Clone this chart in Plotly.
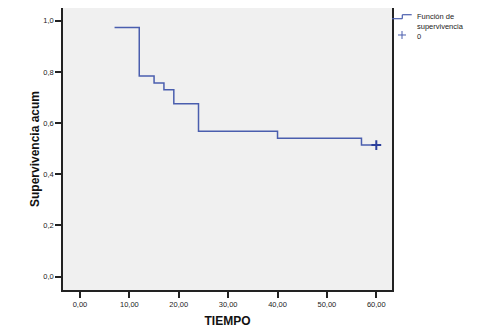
import plotly.graph_objects as go

# Kaplan-Meier step data
tiempo = [7, 12, 15, 17, 19, 24, 40, 57, 60]
supervivencia = [0.973, 0.784, 0.757, 0.730, 0.676, 0.568, 0.541, 0.514, 0.514]

# censored observations
tiempo_censurado = [60]
supervivencia_censurada = [0.514]

x_ticks = [0, 10, 20, 30, 40, 50, 60]
y_ticks = [0.0, 0.2, 0.4, 0.6, 0.8, 1.0]

line_color = "#4a5eae"
cens_color = "#2b3f9c"
font_family = "Liberation Sans, Arial, sans-serif"

fig = go.Figure()
fig.add_trace(go.Scatter(
    x=tiempo, y=supervivencia, mode="lines", line_shape="hv",
    line=dict(color=line_color, width=1.5), showlegend=False, hoverinfo="skip"))
fig.add_trace(go.Scatter(
    x=tiempo_censurado, y=supervivencia_censurada, mode="markers",
    marker=dict(symbol="cross-thin", size=7, line=dict(color=cens_color, width=2)),
    showlegend=False, hoverinfo="skip"))

# manual legend (outside plot, right)
shapes = [
    dict(type="line", xref="paper", yref="paper", x0=1.0, x1=1.0313, y0=0.9621, y1=0.9621,
         line=dict(color=line_color, width=1.2)),
    dict(type="line", xref="paper", yref="paper", x0=1.0313, x1=1.0313, y0=0.9621, y1=0.9762,
         line=dict(color=line_color, width=1.2)),
    dict(type="line", xref="paper", yref="paper", x0=1.0313, x1=1.0599, y0=0.9762, y1=0.9762,
         line=dict(color=line_color, width=1.2)),
    dict(type="line", xref="paper", yref="paper", x0=1.0182, x1=1.0426, y0=0.9043, y1=0.9043,
         line=dict(color=line_color, width=1)),
    dict(type="line", xref="paper", yref="paper", x0=1.0304, x1=1.0304, y0=0.8901, y1=0.9184,
         line=dict(color=line_color, width=1)),
]
leg_font = dict(size=7.5, color="#222", family=font_family)
annotations = [
    dict(text="Función de", xref="paper", yref="paper", x=1.0729, y=0.9681, xanchor="left",
         yanchor="middle", showarrow=False, borderpad=0, font=leg_font),
    dict(text="supervivencia", xref="paper", yref="paper", x=1.0729, y=0.9344, xanchor="left",
         yanchor="middle", showarrow=False, borderpad=0, font=leg_font),
    dict(text="0", xref="paper", yref="paper", x=1.0729, y=0.8989, xanchor="left",
         yanchor="middle", showarrow=False, borderpad=0, font=leg_font),
]

# page body has an 8px margin: the figure is sized/placed to compensate
fig.update_layout(
    width=469, height=322,
    margin=dict(l=55, r=85, t=0, b=40, autoexpand=False),
    paper_bgcolor="white", plot_bgcolor="#f0f0f0",
    separators=",.",
    font=dict(family=font_family, size=8, color="#222"),
    shapes=shapes, annotations=annotations,
    showlegend=False,
)
fig.update_xaxes(
    range=[-3.44, 63.18], tickvals=x_ticks, tickformat=".2f", automargin=False,
    ticks="outside", ticklen=6, tickwidth=1.5, tickcolor="#222",
    showgrid=False, zeroline=False, showline=True, mirror=True,
    linecolor="#222", linewidth=1.5,
    tickfont=dict(size=7.5, color="#222"),
    title=dict(text="<b>TIEMPO</b>", font=dict(size=12, color="#111"), standoff=9),
)
fig.update_yaxes(
    range=[-0.052, 1.0496], tickvals=y_ticks, tickformat=".1f", automargin=False,
    ticks="outside", ticklen=6, tickwidth=1.5, tickcolor="#222",
    showgrid=False, zeroline=False, showline=True, mirror=True,
    linecolor="#222", linewidth=1.5,
    tickfont=dict(size=7.5, color="#222"),
    title=dict(text="<b>Supervivencia acum</b>", font=dict(size=12, color="#111"), standoff=1),
)

fig.write_html("out.html")
